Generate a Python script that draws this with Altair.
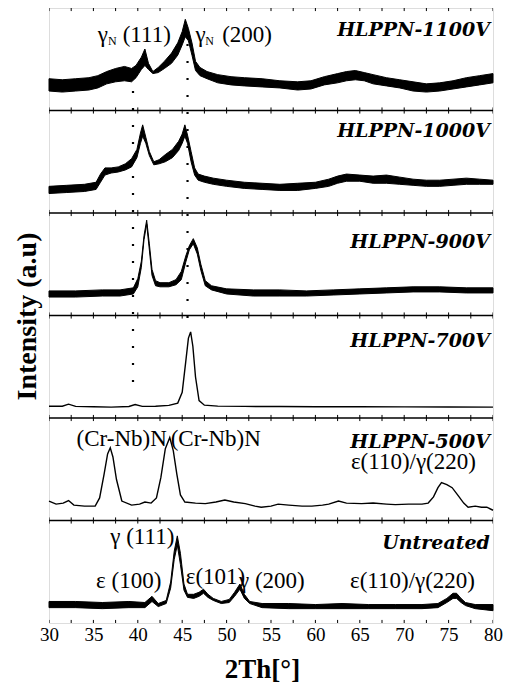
import altair as alt
import pandas as pd

# ---------------- data (panel units: 0 = panel bottom, 100 = panel top)
panel_names = ["Untreated", "HLPPN-500V", "HLPPN-700V", "HLPPN-900V", "HLPPN-1000V", "HLPPN-1100V"]

# HLPPN-1100V (noisy trace: lower / upper envelope)
x_1100 = [30, 31.5, 33, 34.5, 35.5, 36.5, 37.5, 38.5, 39.3, 39.8, 40.4, 40.8, 41.2, 41.7, 42.3, 43, 43.8, 44.5,
          45.0, 45.35, 45.7, 46.1, 46.5, 47, 47.8, 49, 50.5, 52, 54, 56, 58, 59.5, 61, 62.5, 63.5, 64.5, 65.5,
          66.5, 68, 69.5, 71, 72.5, 74, 75.5, 77, 78.5, 80]
hi_1100 = [31, 30, 31, 32, 34, 38, 41, 43, 41, 44, 52, 60, 46, 38, 42, 48, 56, 66, 77, 89, 80, 66, 48, 42, 38,
           35, 33, 32, 31, 29, 28, 29, 33, 36, 38, 39, 37, 35, 32, 30, 28, 26, 27, 29, 32, 34, 36]
lo_1100 = [19, 18, 19, 20, 22, 26, 28, 29, 28, 32, 40, 44, 40, 36, 37, 41, 46, 54, 64, 72, 68, 54, 39, 34, 31,
           27, 25, 24, 23, 22, 20, 21, 25, 27, 29, 30, 29, 26, 24, 22, 19, 18, 19, 21, 23, 25, 27]

# HLPPN-1000V
x_1000 = [30, 32, 34, 35.3, 35.8, 36.3, 37, 37.8, 38.6, 39.3, 39.9, 40.3, 40.55, 40.9, 41.3, 41.8, 42.4, 43.1,
          43.9, 44.6, 45.0, 45.3, 45.6, 46.0, 46.4, 46.8, 47.5, 48.5, 50, 52, 54, 56, 58, 60, 61.5, 62.5, 63.5,
          65, 66.5, 68, 69.5, 71, 72.5, 74, 75.5, 77, 78.5, 80]
hi_1000 = [26, 27, 28, 30, 38, 44, 44, 45, 48, 53, 62, 78, 86, 74, 60, 50, 52, 57, 62, 70, 77, 86, 76, 60, 44,
           38, 36, 34, 32, 30, 29, 28, 29, 30, 33, 36, 38, 37, 36, 37, 35, 33, 32, 32, 33, 34, 33, 32]
lo_1000 = [19, 20, 21, 23, 30, 37, 39, 40, 42, 45, 54, 68, 75, 68, 56, 47, 48, 50, 54, 61, 68, 75, 68, 50, 37,
           32, 30, 28, 26, 24, 23, 22, 22, 24, 26, 29, 31, 31, 29, 29, 28, 27, 26, 26, 27, 28, 28, 28]

# HLPPN-900V
x_900 = [30, 33, 36, 38, 39.5, 40.0, 40.4, 40.7, 41.0, 41.3, 41.6, 42.0, 42.5, 43.5, 44.3, 44.9, 45.4, 45.8,
         46.25, 46.7, 47.1, 47.6, 48.3, 50, 53, 56, 59, 62, 65, 68, 71, 74, 77, 80]
hi_900 = [24, 24, 25, 25, 27, 36, 53, 78, 93, 70, 45, 34, 32, 32, 35, 43, 58, 68, 75, 66, 50, 34, 29, 26, 25,
          25, 24, 25, 26, 27, 28, 28, 27, 27]
lo_900 = [18, 18, 19, 19, 21, 28, 47, 74, 89, 64, 39, 29, 28, 28, 30, 35, 52, 64, 70, 60, 44, 29, 25, 21, 19,
          19, 19, 20, 21, 22, 23, 23, 22, 22]

# HLPPN-700V (clean trace)
x_700 = [30, 31.5, 32.2, 33, 35, 37, 39, 39.7, 40.5, 42, 43.5, 44.5, 45.0, 45.4, 45.7, 45.95, 46.2, 46.5, 46.9,
         47.5, 49, 52, 56, 60, 65, 70, 75, 80]
y_700 = [11.5, 11.5, 13.5, 11.3, 11, 10.6, 11.2, 13.2, 11.3, 11.5, 12.3, 14.5, 25, 55, 78, 84, 70, 40, 17,
         12.5, 11.6, 11.3, 11.2, 11, 11, 10.9, 10.8, 10.6]

# HLPPN-500V (clean trace)
x_500 = [30, 30.8, 31.6, 32.2, 32.8, 34, 35.2, 35.7, 36.2, 36.6, 36.9, 37.2, 37.6, 38.2, 39.3, 40.2, 40.8,
         41.5, 42.1, 42.6, 43.1, 43.6, 44.0, 44.4, 44.8, 45.3, 46.5, 47.6, 48.8, 49.8, 50.8, 52.1, 53.2, 53.9,
         55, 55.8, 57, 58.5, 59.6, 60.8, 61.5, 62.6, 63.5, 65.2, 66.5, 68, 69, 70.5, 72, 72.7, 73.3, 73.8,
         74.2, 74.8, 75.4, 76.1, 76.7, 77.2, 78.0, 78.7, 79.3, 80]
y_500 = [19, 16, 17, 19.5, 15, 14, 14, 22, 45, 65, 71, 62, 40, 19, 15, 16, 18, 17, 22, 42, 70, 81, 68, 45,
         25, 18, 17, 16.5, 18, 20, 18, 16.5, 14, 13, 14, 16, 15, 14, 14, 15, 16, 19, 17, 16.5, 17, 16, 15.5,
         16, 16, 17, 23, 32, 37, 35, 32, 24, 17, 13, 14, 13, 13, 10]

# Untreated (noisy trace)
x_unt = [30, 33, 36, 39, 40.8, 41.6, 42.3, 43.2, 43.7, 44.1, 44.45, 44.8, 45.2, 45.6, 46.3, 46.9, 47.4, 47.9,
         48.5, 49.4, 50.3, 50.9, 51.5, 52.0, 52.6, 54, 57, 60, 63, 66, 69, 72, 73.8, 74.8, 75.5, 75.9, 76.4,
         76.9, 78, 80]
hi_unt = [21, 21, 20, 21, 20, 26, 19, 22, 40, 70, 85, 68, 38, 28, 28, 30, 33, 28, 24, 21, 23, 30, 38, 28, 21,
          19, 19, 18, 19, 18, 18, 18, 19, 24, 29, 29, 24, 20, 18, 18]
lo_unt = [15, 15, 14, 15, 15, 21, 16, 19, 34, 62, 76, 57, 32, 25, 24, 26, 29, 25, 22, 19, 20, 26, 33, 24, 19,
          15, 14, 14, 14, 14, 14, 14, 15, 20, 24, 24, 20, 17, 14, 12]

x_tick_labels = [30, 35, 40, 45, 50, 55, 60, 65, 70, 75, 80]
x_minor_ticks = [30, 32.5, 35, 37.5, 40, 42.5, 45, 47.5, 50, 52.5, 55, 57.5, 60, 62.5, 65, 67.5, 70, 72.5,
                 75, 77.5, 80]

# panel labels (baseline in panel units)
label_base = [72, 71, 69, 66, 74, 73]

# peak annotations: (text, 2theta of left edge, panel index from bottom, baseline in panel units)
ann_text = ["γ", "(111)", "γ", "(200)",
            "(Cr-Nb)N", "(Cr-Nb)N", "ε(110)/γ(220)",
            "γ (111)", "ε (100)", "ε(101)", "γ (200)", "ε(110)/γ(220)"]
ann_x = [35.5, 38.3, 46.5, 49.5,
         33.1, 43.7, 64.0,
         36.9, 35.3, 45.4, 51.4, 63.9]
ann_panel = [5, 5, 5, 5, 1, 1, 1, 0, 0, 0, 0, 0]
ann_y = [67, 67, 67, 67, 73, 73, 50, 77, 34, 38, 34, 34]

sub_text = ["N", "N"]
sub_x = [36.65, 47.6]
sub_panel = [5, 5]
sub_y = [64, 64]

# dotted guide lines at the gamma_N positions
guide_x = [39.46, 45.6]
guide_top = [519, 565]
guide_bottom = [232, 296]

SERIF = "Liberation Serif"

# ---------------- tables
P = 100  # units per panel

band_rows = []
for idx, xs, los, his in [(5, x_1100, lo_1100, hi_1100), (4, x_1000, lo_1000, hi_1000),
                          (3, x_900, lo_900, hi_900), (0, x_unt, lo_unt, hi_unt)]:
    assert len(xs) == len(los) == len(his)
    for a, b, c in zip(xs, los, his):
        band_rows.append({"panel": panel_names[idx], "x": a, "y": b + idx * P, "y2": c + idx * P})
band_df = pd.DataFrame(band_rows)

line_rows = []
for idx, xs, ys in [(2, x_700, y_700), (1, x_500, y_500)]:
    assert len(xs) == len(ys)
    for a, b in zip(xs, ys):
        line_rows.append({"panel": panel_names[idx], "x": a, "y": b + idx * P})
line_df = pd.DataFrame(line_rows)

label_df = pd.DataFrame({"text": panel_names, "x": [79.65] * 6,
                         "y": [b + i * P for i, b in enumerate(label_base)]})
ann_df = pd.DataFrame({"text": ann_text, "x": ann_x,
                       "y": [b + p * P for b, p in zip(ann_y, ann_panel)]})
sub_df = pd.DataFrame({"text": sub_text, "x": sub_x,
                       "y": [b + p * P for b, p in zip(sub_y, sub_panel)]})
sep_df = pd.DataFrame({"x": [30] * 5, "x2": [80] * 5, "y": [P * i for i in range(1, 6)]})
tick_rows = []
for b in range(0, 7):
    for t in x_minor_ticks:
        tick_rows.append({"x": t, "y": b * P - 3, "y2": b * P + 3})
tick_df = pd.DataFrame(tick_rows)
guide_df = pd.DataFrame({"x": guide_x, "y": guide_top, "y2": guide_bottom})

# ---------------- encodings (same axis objects everywhere so that layers merge cleanly)
x_scale = alt.Scale(domain=[30, 80], nice=False, zero=False)
y_scale = alt.Scale(domain=[0, 6 * P], nice=False, zero=False)
x_axis = alt.Axis(
    values=x_tick_labels, format="d", labelFont=SERIF, labelFontSize=19,
    labelColor="black", labelFlush=False, labelPadding=2, tickSize=0, domain=False, grid=False,
    title="2Th[°]", titleFont=SERIF, titleFontSize=27, titleFontWeight="bold",
    titleColor="black", titleX=213, titleY=54, titleBaseline="alphabetic")
y_axis = alt.Axis(
    labels=False, ticks=False, domain=False, grid=False, title="Intensity (a.u)",
    titleFont=SERIF, titleFontSize=28, titleFontWeight="bold", titleColor="black",
    titleAngle=270, titleX=-22, titleY=308, titleAlign="center", titleBaseline="middle")


def X():
    return alt.X("x:Q", scale=x_scale, axis=x_axis, title="2Th[°]")


def Y():
    return alt.Y("y:Q", scale=y_scale, axis=y_axis, title="Intensity (a.u)")


band = alt.Chart(band_df).mark_area(color="black", stroke="black", strokeWidth=1, opacity=1).encode(
    x=X(), y=Y(), y2="y2:Q", detail="panel:N")
lines = alt.Chart(line_df).mark_line(color="black", strokeWidth=1.4).encode(
    x=X(), y=Y(), detail="panel:N")
seps = alt.Chart(sep_df).mark_rule(color="black", strokeWidth=1.5).encode(
    x=X(), x2="x2:Q", y=Y())
ticks = alt.Chart(tick_df).mark_rule(color="black", strokeWidth=1, clip=True).encode(
    x=X(), y=Y(), y2="y2:Q")
guides = alt.Chart(guide_df).mark_rule(color="black", strokeWidth=2.2, strokeDash=[2, 15]).encode(
    x=X(), y=Y(), y2="y2:Q")
labels = alt.Chart(label_df).mark_text(
    font="DejaVu Serif", fontSize=19, fontWeight="bold", fontStyle="italic", align="right",
    baseline="alphabetic", color="black").encode(x=X(), y=Y(), text="text:N")
anns = alt.Chart(ann_df).mark_text(
    font=SERIF, fontSize=23, align="left", baseline="alphabetic", color="black").encode(
    x=X(), y=Y(), text="text:N")
subs = alt.Chart(sub_df).mark_text(
    font=SERIF, fontSize=12, align="left", baseline="alphabetic", color="black").encode(
    x=X(), y=Y(), text="text:N")

chart = alt.layer(lines, band, seps, ticks, guides, labels, anns, subs).properties(
    width=444, height=615,
    autosize=alt.AutoSizeParams(type="none"),
    padding={"left": 49, "top": 8, "right": 12, "bottom": 68},
).configure_view(stroke="black", strokeWidth=1.5).configure(background="white")

chart.save("out.html", embed_options={"renderer": "svg", "actions": False})
